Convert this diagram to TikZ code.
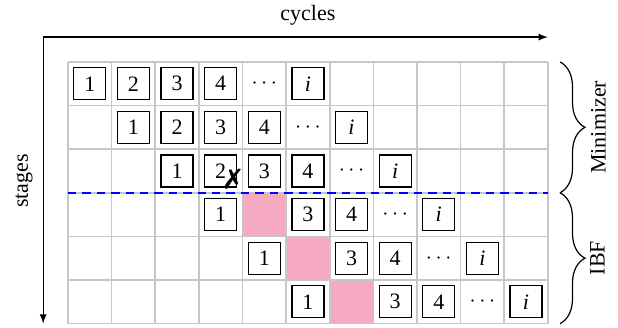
\documentclass[tikz,border=0pt]{standalone}
\usepackage{fontspec}
\setmainfont{Liberation Serif}
\usepackage{pifont}
\usetikzlibrary{positioning,decorations.pathreplacing}
\definecolor{stallpink}{RGB}{245,170,194}
\tikzset{
    %Define standard arrow tip
    >=latex,
    %Define style for the numbered boxes
    slot/.style={
           rectangle,
           draw=black, semithick,
           fill=white,
           minimum size=16pt,
           inner sep=0pt,
           outer sep=0pt},
    %Boxes without a frame (dots and empty places)
    blank/.style={
           slot,
           draw=none,
           fill=none},
    % Define style for the table lines
    cellgrid/.style={
           draw=black!22,
           line width=0.8pt},
    % Define arrow style for the axes
    pil/.style={
           ->,
           semithick},
    % Define brace style
    klammer/.style={
           decorate,
           decoration={brace, amplitude=12.5pt},
           semithick}
}

\begin{document}
\begin{tikzpicture}[x=21.8pt, y=21.8pt, node distance=5.8pt,
                    font=\fontsize{11}{13}\selectfont]
\useasboundingbox (-1.56,1.42) rectangle (12.61,-6.08);

% stalled slots
\fill[stallpink] (4,-3) rectangle (5,-4);
\fill[stallpink] (5,-4) rectangle (6,-5);
\fill[stallpink] (6,-5) rectangle (7,-6);

\draw[cellgrid, step=1] (0,0) grid (11,-6);

% boundary between the two parts
\draw[blue, very thick, dash pattern=on 4.2pt off 3pt] (0,-3) -- (11,-3);

% stage 1
\node[slot] (s1k1) at (0.5,-0.5) {1};
\node[slot, right=of s1k1] (s1k2) {2};
\node[slot, right=of s1k2] (s1k3) {3};
\node[slot, right=of s1k3] (s1k4) {4};
\node[blank, right=of s1k4] (s1dots) {$\cdots$};
\node[slot, right=of s1dots] (s1i) {\textit{i}};

% stage 2
\node[slot] (s2k1) at (1.5,-1.5) {1};
\node[slot, right=of s2k1] (s2k2) {2};
\node[slot, right=of s2k2] (s2k3) {3};
\node[slot, right=of s2k3] (s2k4) {4};
\node[blank, right=of s2k4] (s2dots) {$\cdots$};
\node[slot, right=of s2dots] (s2i) {\textit{i}};

% stage 3
\node[slot] (s3k1) at (2.5,-2.5) {1};
\node[slot, right=of s3k1] (s3k2) {2};
\node[slot, right=of s3k2] (s3k3) {3};
\node[slot, right=of s3k3] (s3k4) {4};
\node[blank, right=of s3k4] (s3dots) {$\cdots$};
\node[slot, right=of s3dots] (s3i) {\textit{i}};
\node[font=\fontsize{14}{16}\selectfont] (fail) at (3.78,-2.7) {\ding{55}};

% stage 4
\node[slot] (s4k1) at (3.5,-3.5) {1};
\node[blank, right=of s4k1] (s4gap) {};
\node[slot, right=of s4gap] (s4k3) {3};
\node[slot, right=of s4k3] (s4k4) {4};
\node[blank, right=of s4k4] (s4dots) {$\cdots$};
\node[slot, right=of s4dots] (s4i) {\textit{i}};

% stage 5
\node[slot] (s5k1) at (4.5,-4.5) {1};
\node[blank, right=of s5k1] (s5gap) {};
\node[slot, right=of s5gap] (s5k3) {3};
\node[slot, right=of s5k3] (s5k4) {4};
\node[blank, right=of s5k4] (s5dots) {$\cdots$};
\node[slot, right=of s5dots] (s5i) {\textit{i}};

% stage 6
\node[slot] (s6k1) at (5.5,-5.5) {1};
\node[blank, right=of s6k1] (s6gap) {};
\node[slot, right=of s6gap] (s6k3) {3};
\node[slot, right=of s6k3] (s6k4) {4};
\node[blank, right=of s6k4] (s6dots) {$\cdots$};
\node[slot, right=of s6dots] (s6i) {\textit{i}};

% axes
\coordinate (origin) at (-0.57,0.57);
\coordinate (cycend) at (11,0.57);
\coordinate (stgend) at (-0.57,-6);
\draw[pil] (origin) -- (cycend);
\draw[pil] (origin) -- (stgend);
\node (cycles) at (5.5,1.08) {cycles};
\node[rotate=90] (stages) at (-1.01,-2.73) {stages};

% braces
\coordinate (mintop) at (11.28,0);
\coordinate (minbot) at (11.28,-3);
\coordinate (ibfbot) at (11.28,-6);
\draw[klammer] (mintop) -- (minbot);
\draw[klammer] (minbot) -- (ibfbot);
\node[rotate=90] (minimizer) at (12.16,-1.5) {Minimizer};
\node[rotate=90] (ibf) at (12.14,-4.5) {IBF};
\end{tikzpicture}
\end{document}
